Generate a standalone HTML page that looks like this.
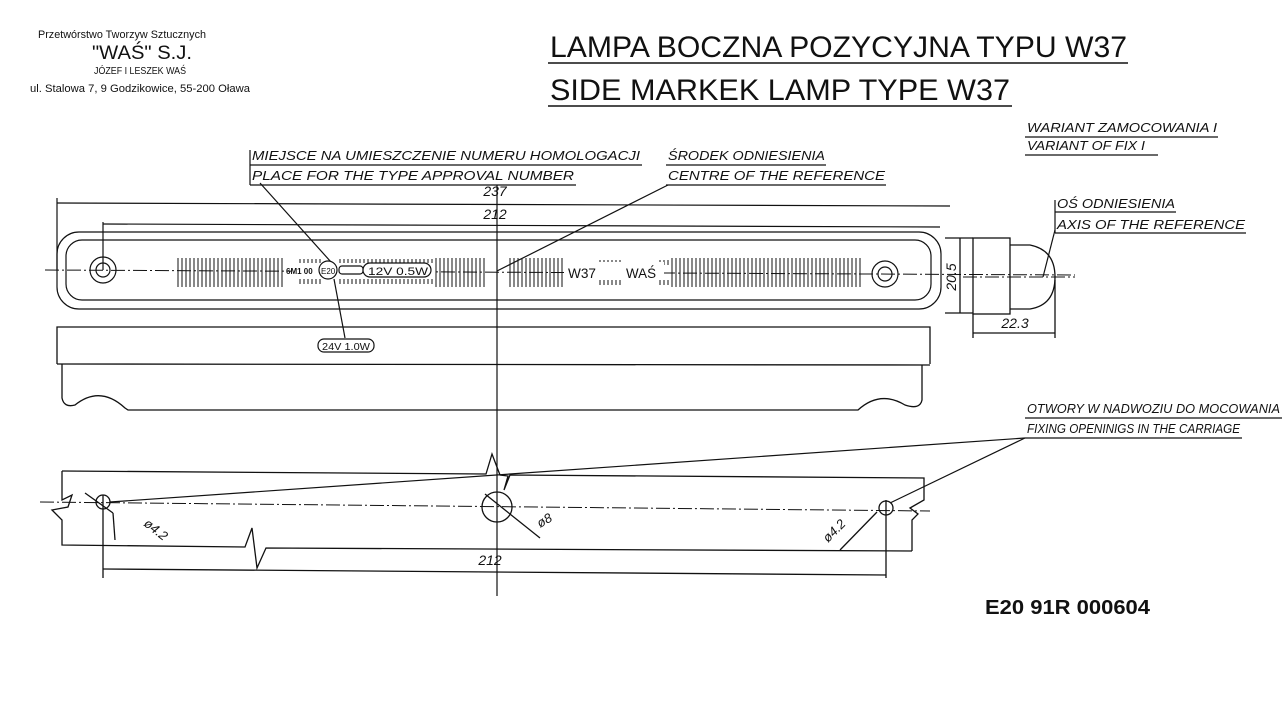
<!DOCTYPE html>
<html><head><meta charset="utf-8"><style>
html,body{margin:0;padding:0;background:#fff;}
svg{display:block;}
text{font-family:"Liberation Sans",sans-serif;fill:#111;}
.it{font-style:italic;}
</style></head><body>
<svg width="1282" height="726" viewBox="0 0 1282 726" xmlns="http://www.w3.org/2000/svg">
<rect width="1282" height="726" fill="#fff"/>
<text x="122" y="38" font-size="11" text-anchor="middle" textLength="168" lengthAdjust="spacingAndGlyphs">Przetwórstwo Tworzyw Sztucznych</text>
<text x="142" y="59" font-size="19" text-anchor="middle" textLength="100" lengthAdjust="spacingAndGlyphs">"WAŚ" S.J.</text>
<text x="140" y="74" font-size="10" text-anchor="middle" textLength="92" lengthAdjust="spacingAndGlyphs">JÓZEF I LESZEK WAŚ</text>
<text x="140" y="92" font-size="11" text-anchor="middle" textLength="220" lengthAdjust="spacingAndGlyphs">ul. Stalowa 7, 9 Godzikowice, 55-200 Oława</text>

<text x="550" y="57" font-size="30" textLength="577" lengthAdjust="spacingAndGlyphs">LAMPA BOCZNA POZYCYJNA TYPU W37</text>
<text x="550" y="100" font-size="30" textLength="460" lengthAdjust="spacingAndGlyphs">SIDE MARKEK LAMP TYPE W37</text>
<g stroke="#111" stroke-width="1.5">
<line x1="548" y1="63" x2="1128" y2="63"/>
<line x1="548" y1="106" x2="1012" y2="106"/>
</g>

<g font-size="13">
<text x="252" y="160" textLength="388" lengthAdjust="spacingAndGlyphs" class="it">MIEJSCE NA UMIESZCZENIE NUMERU HOMOLOGACJI</text>
<text x="252" y="180" textLength="322" lengthAdjust="spacingAndGlyphs" class="it">PLACE FOR THE TYPE APPROVAL NUMBER</text>
<text x="668" y="160" textLength="157" lengthAdjust="spacingAndGlyphs" class="it">ŚRODEK ODNIESIENIA</text>
<text x="668" y="180" textLength="217" lengthAdjust="spacingAndGlyphs" class="it">CENTRE OF THE REFERENCE</text>
<text x="1027" y="132" textLength="190" lengthAdjust="spacingAndGlyphs" class="it">WARIANT ZAMOCOWANIA I</text>
<text x="1027" y="150" textLength="118" lengthAdjust="spacingAndGlyphs" class="it">VARIANT OF FIX I</text>
<text x="1057" y="208" textLength="118" lengthAdjust="spacingAndGlyphs" class="it">OŚ ODNIESIENIA</text>
<text x="1057" y="229" textLength="188" lengthAdjust="spacingAndGlyphs" class="it">AXIS OF THE REFERENCE</text>
<text x="1027" y="413" textLength="253" lengthAdjust="spacingAndGlyphs" class="it">OTWORY W NADWOZIU DO MOCOWANIA</text>
<text x="1027" y="433" textLength="213" lengthAdjust="spacingAndGlyphs" class="it">FIXING OPENINIGS IN THE CARRIAGE</text>
</g>
<g stroke="#111" stroke-width="1.2" fill="none">
<line x1="250" y1="165" x2="642" y2="165"/>
<line x1="250" y1="185" x2="576" y2="185"/>
<line x1="250" y1="150" x2="250" y2="185"/>
<line x1="666" y1="165" x2="826" y2="165"/>
<line x1="666" y1="185" x2="886" y2="185"/>
<line x1="1025" y1="137" x2="1218" y2="137"/>
<line x1="1025" y1="155" x2="1158" y2="155"/>
<line x1="1055" y1="212" x2="1176" y2="212"/>
<line x1="1055" y1="233" x2="1246" y2="233"/>
<line x1="1055" y1="200" x2="1055" y2="233"/>
<line x1="1025" y1="418" x2="1282" y2="418"/>
<line x1="1025" y1="438" x2="1242" y2="438"/>
<line x1="260" y1="183" x2="331" y2="262"/>
<line x1="668" y1="185" x2="497" y2="271"/>
<line x1="1055" y1="230" x2="1043" y2="277"/>
<line x1="110" y1="502" x2="1025" y2="438"/>
<line x1="890" y1="503" x2="1025" y2="438"/>

<line x1="57" y1="198" x2="57" y2="270"/>
<line x1="57" y1="203" x2="950" y2="206"/>
<line x1="103" y1="222" x2="103" y2="270"/>
<line x1="103" y1="224" x2="940" y2="227"/>
<line x1="497" y1="185" x2="497" y2="596"/>

<rect x="57" y="232" width="884" height="77" rx="22"/>
<rect x="66" y="240" width="865" height="60" rx="16"/>
<circle cx="103" cy="270" r="13"/>
<circle cx="103" cy="270" r="7"/>
<circle cx="885" cy="274" r="13"/>
<circle cx="885" cy="274" r="7"/>
<line x1="45" y1="270" x2="1075" y2="275" stroke-dasharray="14,3,2,3" stroke-width="1"/>
</g>
<g stroke="#111" stroke-width="1">
<path d="M178 258V287M182 258V287M186 258V287M190 258V287M194 258V287M198 258V287M202 258V287M206 258V287M210 258V287M214 258V287M218 258V287M222 258V287M226 258V287M230 258V287M234 258V287M238 258V287M242 258V287M246 258V287M250 258V287M254 258V287M258 258V287M262 258V287M266 258V287M270 258V287M274 258V287M278 258V287M282 258V287"/>
<path d="M300 259V263M304 259V263M308 259V263M312 259V263M316 259V263M320 259V263M340 259V263M344 259V263M348 259V263M352 259V263M356 259V263M360 259V263M364 259V263M368 259V263M372 259V263M376 259V263M380 259V263M384 259V263M388 259V263M392 259V263M396 259V263M400 259V263M404 259V263M408 259V263M412 259V263M416 259V263M420 259V263M424 259V263M428 259V263M432 259V263"/>
<path d="M300 279V284M304 279V284M308 279V284M312 279V284M316 279V284M320 279V284M340 279V284M344 279V284M348 279V284M352 279V284M356 279V284M360 279V284M364 279V284M368 279V284M372 279V284M376 279V284M380 279V284M384 279V284M388 279V284M392 279V284M396 279V284M400 279V284M404 279V284M408 279V284M412 279V284M416 279V284M420 279V284M424 279V284M428 279V284M432 279V284"/>
<path d="M436 258V287M440 258V287M444 258V287M448 258V287M452 258V287M456 258V287M460 258V287M464 258V287M468 258V287M472 258V287M476 258V287M480 258V287M484 258V287"/>
<path d="M510 258V287M514 258V287M518 258V287M522 258V287M526 258V287M530 258V287M534 258V287M538 258V287M542 258V287M546 258V287M550 258V287M554 258V287M558 258V287M562 258V287"/>
<path d="M600 260V265M604 260V265M608 260V265M612 260V265M616 260V265M620 260V265M660 260V265M664 260V265M668 260V265M600 280V285M604 280V285M608 280V285M612 280V285M616 280V285M620 280V285M660 280V285M664 280V285M668 280V285"/>
<path d="M672 258V287M676 258V287M680 258V287M684 258V287M688 258V287M692 258V287M696 258V287M700 258V287M704 258V287M708 258V287M712 258V287M716 258V287M720 258V287M724 258V287M728 258V287M732 258V287M736 258V287M740 258V287M744 258V287M748 258V287M752 258V287M756 258V287M760 258V287M764 258V287M768 258V287M772 258V287M776 258V287M780 258V287M784 258V287M788 258V287M792 258V287M796 258V287M800 258V287M804 258V287M808 258V287M812 258V287M816 258V287M820 258V287M824 258V287M828 258V287M832 258V287M836 258V287M840 258V287M844 258V287M848 258V287M852 258V287M856 258V287M860 258V287"/>
</g>
<rect x="291" y="263" width="143" height="15" fill="#fff"/>
<rect x="564" y="262" width="100" height="17" fill="#fff"/>
<text x="286" y="274" font-size="8" font-weight="bold">6M1 00</text>
<g stroke="#111" stroke-width="1.2" fill="#fff">
<circle cx="328" cy="270" r="9"/>
<rect x="339" y="266" width="24" height="8" rx="3"/>
<rect x="363" y="263" width="68" height="14" rx="7"/>
<line x1="334" y1="279" x2="345" y2="338" fill="none"/>
<rect x="318" y="339" width="56" height="13" rx="6"/>
</g>
<text x="321" y="274" font-size="8">E20</text>
<text x="368" y="275" font-size="11" textLength="60" lengthAdjust="spacingAndGlyphs">12V  0.5W</text>
<text x="322" y="350" font-size="10" textLength="48" lengthAdjust="spacingAndGlyphs">24V  1.0W</text>
<text x="568" y="278" font-size="14" textLength="28" lengthAdjust="spacingAndGlyphs">W37</text>
<text x="626" y="278" font-size="14" textLength="30" lengthAdjust="spacingAndGlyphs">WAŚ</text>
<text x="495" y="196" font-size="14" class="it" text-anchor="middle">237</text>
<text x="495" y="219" font-size="14" class="it" text-anchor="middle">212</text>

<g stroke="#111" stroke-width="1.3" fill="none">
<path d="M57 364V327H930V364"/>
<line x1="57" y1="364" x2="930" y2="365"/>
<path d="M62 364V398Q64 408 75 405Q100 385 125 408L128 410H858Q880 390 905 405Q920 410 922 400V365"/>
</g>

<g stroke="#111" stroke-width="1.3" fill="none">
<rect x="973" y="238" width="37" height="76"/>
<path d="M1010 245H1030Q1055 250 1055 277Q1055 305 1030 309H1010"/>
<line x1="960" y1="238" x2="960" y2="313"/>
<line x1="945" y1="238" x2="973" y2="238"/>
<line x1="945" y1="313" x2="973" y2="313"/>
<line x1="973" y1="314" x2="973" y2="338"/>
<line x1="1055" y1="280" x2="1055" y2="338"/>
<line x1="973" y1="333" x2="1055" y2="333"/>
<line x1="963" y1="277" x2="1075" y2="277" stroke-dasharray="14,3,2,3" stroke-width="1"/>
</g>
<text transform="translate(956,277) rotate(-90)" font-size="14" class="it" text-anchor="middle">20.5</text>
<text x="1015" y="328" font-size="14" class="it" text-anchor="middle">22.3</text>

<g stroke="#111" stroke-width="1.3" fill="none">
<path d="M62 471L486 474L492 454L500 475L508 476L504 490L510 475L924 478V500L910 508L918 514L912 520V551"/>
<path d="M62 471V500L72 495L68 507L52 510L62 520V545L245 547L252 528L257 568L266 548L912 551"/>
<circle cx="103" cy="502" r="7"/>
<circle cx="497" cy="507" r="15"/>
<circle cx="886" cy="508" r="7"/>
<line x1="40" y1="502" x2="930" y2="511" stroke-dasharray="14,3,2,3" stroke-width="1"/>
<line x1="103" y1="495" x2="103" y2="578"/>
<line x1="886" y1="500" x2="886" y2="578"/>
<line x1="103" y1="569" x2="886" y2="575"/>
<line x1="85" y1="493" x2="113" y2="513"/>
<line x1="113" y1="513" x2="115" y2="540"/>
<line x1="485" y1="494" x2="540" y2="538"/>
<line x1="877" y1="512" x2="840" y2="550"/>
</g>
<text x="490" y="565" font-size="14" class="it" text-anchor="middle">212</text>
<text transform="translate(143,525) rotate(38)" font-size="13" class="it">ø4.2</text>
<text transform="translate(540,528) rotate(-30)" font-size="13" class="it">ø8</text>
<text transform="translate(828,543) rotate(-45)" font-size="13" class="it">ø4.2</text>

<text x="985" y="614" font-size="20" font-weight="bold" font-family="Liberation Mono, monospace" textLength="165" lengthAdjust="spacingAndGlyphs">E20 91R 000604</text>
</svg>
</body></html>
